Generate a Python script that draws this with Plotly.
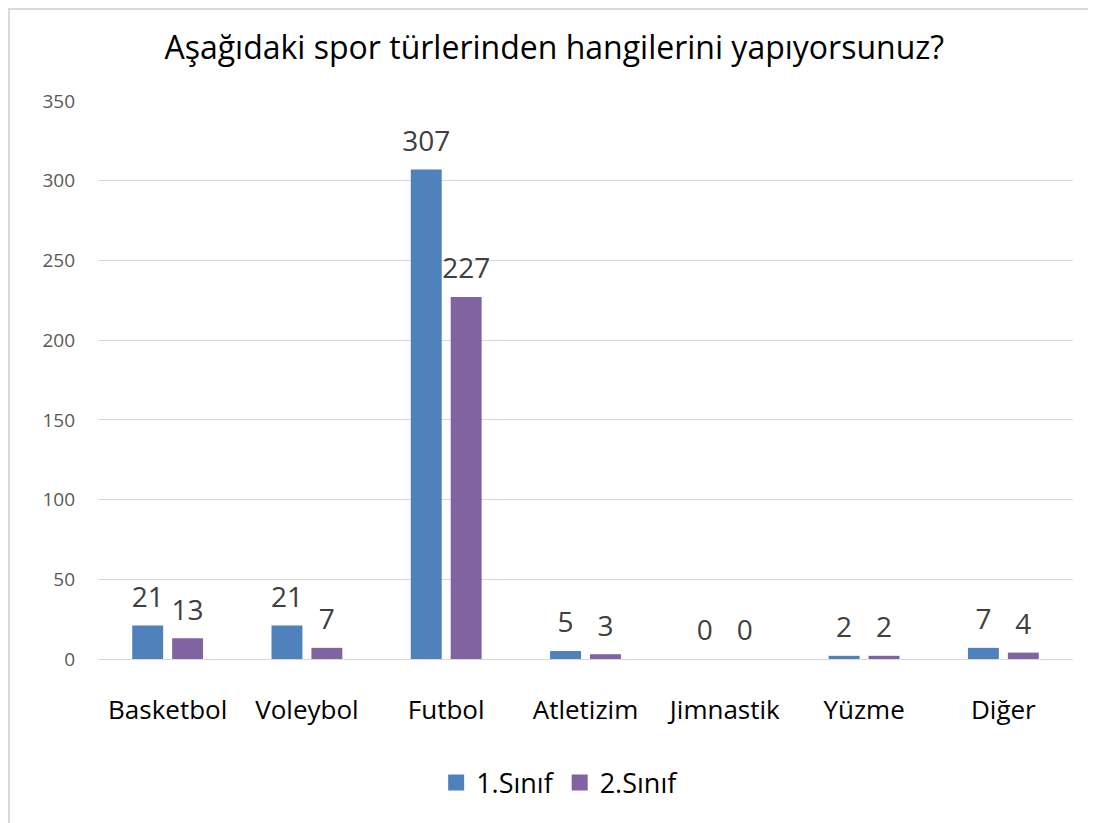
import plotly.graph_objects as go

categories = ["Basketbol", "Voleybol", "Futbol", "Atletizim", "Jimnastik", "Yüzme", "Diğer"]
sinif1 = [21, 21, 307, 5, 0, 2, 7]
sinif2 = [13, 7, 227, 3, 0, 2, 4]
series_names = ["1.Sınıf", "2.Sınıf"]
series_colors = ["#4F81BD", "#8064A2"]
title_text = "Aşağıdaki spor türlerinden hangilerini yapıyorsunuz?"

FONT = "Open Sans, sans-serif"
BARGAP = 0.427

fig = go.Figure()
for vals, name, col in zip([sinif1, sinif2], series_names, series_colors):
    fig.add_trace(go.Bar(x=categories, y=vals, name=name, marker_color=col,
                         marker_line_width=0, showlegend=False))
# data labels (placed above bars with a gap, like the original)
for vals, name in zip([sinif1, sinif2], series_names):
    fig.add_trace(go.Scatter(x=categories, y=vals, mode="markers+text", text=[str(v) for v in vals],
                             textposition="top center", showlegend=False, hoverinfo="skip",
                             marker=dict(size=17, color="rgba(0,0,0,0)"),
                             textfont=dict(size=28, color="#404040", family=FONT),
                             cliponaxis=False))
# legend entries
for name, col in zip(series_names, series_colors):
    fig.add_trace(go.Scatter(x=[None], y=[None], xaxis="x2", mode="markers", name=name,
                             marker=dict(symbol="square", size=18, color=col)))

fig.update_layout(
    width=1096, height=823,
    margin=dict(l=90, r=31, t=93, b=172),
    paper_bgcolor="white", plot_bgcolor="white",
    font=dict(family=FONT, color="#000000"),
    barmode="group", bargap=BARGAP, bargroupgap=0.225,
    scattermode="group", scattergap=BARGAP,
    title=dict(text=title_text, x=0.468, xref="paper", xanchor="center",
               y=1 - 40 / 823, yref="container", yanchor="middle",
               font=dict(size=32, color="#000000", family=FONT)),
    legend=dict(orientation="h", x=0.474, xanchor="center", y=-0.222, yanchor="middle",
                font=dict(size=27, color="#000000", family=FONT), itemwidth=30,
                traceorder="normal"),
    showlegend=True,
    xaxis=dict(showline=True, linecolor="#D9D9D9", linewidth=1, ticks="",
               ticklabelstandoff=28, tickfont=dict(size=26, color="#000000", family=FONT)),
    xaxis2=dict(overlaying="x", visible=False, range=[0, 1]),
    yaxis=dict(range=[0, 350], dtick=50, showgrid=True, gridcolor="#D9D9D9", gridwidth=1,
               zeroline=False, showline=False, ticks="", ticklabelstandoff=22,
               tickfont=dict(size=19, color="#595959", family=FONT)),
)

# outer chart border (light gray)
fig.add_shape(type="line", xref="paper", yref="paper", x0=-0.0913, x1=-0.0913, y0=1.17, y1=-0.32,
              line=dict(color="#D9D9D9", width=2))
fig.add_shape(type="line", xref="paper", yref="paper", x0=-0.0913, x1=1.04, y0=1.165, y1=1.165,
              line=dict(color="#D9D9D9", width=2))

fig.write_html("out.html")
